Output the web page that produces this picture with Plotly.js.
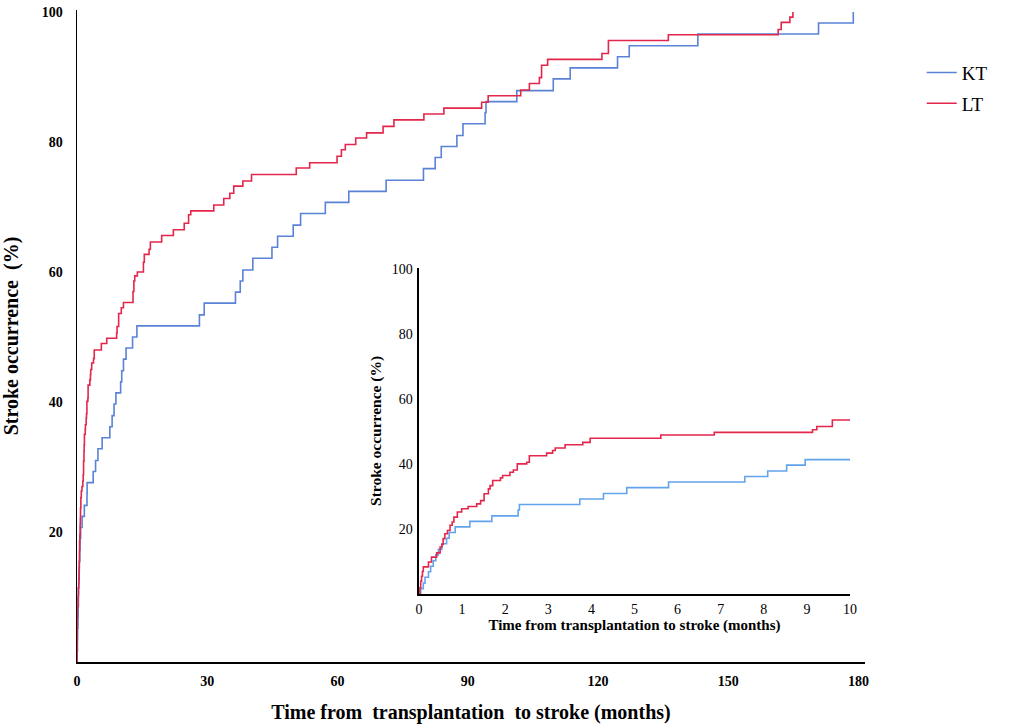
<!DOCTYPE html>
<html>
<head>
<meta charset="utf-8">
<script src="https://cdn.plot.ly/plotly-3.0.1.min.js"></script>
<style>
  html, body { margin: 0; padding: 0; background: #fff; }
  #chart { width: 1013px; height: 728px; }
</style>
</head>
<body>
<div id="chart"></div>
<script>
// Cumulative stroke occurrence (%), step points: time (months) at which the value jumps
const ktMonths = [0, 0.04, 0.10, 0.14, 0.22, 0.27, 0.33, 0.39, 0.45, 0.53, 0.64, 0.70, 0.84, 1.18, 1.69, 2.30, 2.33,
    3.73, 4.28, 4.82, 5.79, 7.56, 8.09, 8.53, 8.96, 10.05, 10.3, 10.7, 11.3, 12.8, 13.8, 28.2, 29.3, 36.5, 37.6,
    38.2, 40.5, 44.9, 46.2, 49.8, 51.5, 57.2, 62.6, 71.2, 79.8, 82.5, 83.9, 87.5, 88.9, 94.0, 94.2, 101.3, 109.7,
    113.6, 124.5, 127.2, 143.0, 170.8, 178.8];
const ktPct = [0, 1.7, 3.4, 5.2, 6.9, 8.6, 10.3, 12.1, 13.8, 15.5, 17.2, 19.0, 20.7, 22.4, 24.1, 25.9, 27.6,
    29.3, 31.0, 32.8, 34.5, 36.2, 37.9, 39.7, 41.4, 43.1, 44.8, 46.6, 48.3, 50.0, 51.7, 53.4, 55.2, 56.9, 58.6,
    60.3, 62.1, 63.8, 65.5, 67.2, 69.0, 70.7, 72.4, 74.1, 75.9, 77.6, 79.3, 81.0, 82.8, 84.5, 86.2, 87.9, 89.7,
    91.4, 93.1, 94.8, 96.6, 98.3, 100];

const ltMonths = [0, 0.02, 0.04, 0.06, 0.08, 0.10, 0.22, 0.29, 0.41, 0.49, 0.53, 0.56, 0.60, 0.66, 0.72, 0.77, 0.81,
    0.89, 0.99, 1.14, 1.34, 1.43, 1.51, 1.61, 1.65, 1.71, 1.89, 1.94, 2.11, 2.19, 2.28, 2.50, 2.56, 2.96, 3.10,
    3.16, 3.39, 3.80, 3.97, 5.61, 6.85, 9.13, 9.23, 9.59, 10.2, 10.7, 12.9, 13.1, 13.3, 13.9, 15.3, 15.5, 16.6,
    16.9, 19.5, 22.2, 24.7, 25.7, 26.2, 31.5, 33.8, 35.2, 36.1, 38.2, 40.2, 50.5, 53.6, 59.9, 60.9, 61.8, 64.2,
    66.7, 70.5, 73.0, 79.9, 84.5, 93.2, 94.7, 102.2, 104.2, 106.5, 107.0, 108.4, 120.9, 122.4, 136.2, 161.5,
    162.2, 164.2, 164.9];
const ltPct = [0, 2.0, 4.0, 5.5, 7.0, 8.4, 9.9, 11.4, 12.7, 14.5, 15.3, 17.1, 18.6, 19.6, 21.2, 22.2, 23.7,
    25.3, 26.3, 27.0, 27.8, 28.8, 30.9, 32.4, 33.4, 35.0, 35.8, 36.5, 37.5, 38.2, 40.1, 40.6, 42.6, 43.4, 44.2,
    45.0, 46.0, 46.7, 48.0, 49.0, 49.8, 50.6, 51.6, 53.6, 54.5, 55.3, 57.0, 58.6, 59.4, 60.0, 61.5, 62.7, 63.5,
    64.6, 65.6, 66.5, 67.5, 68.8, 69.4, 70.3, 71.3, 72.1, 73.2, 74.0, 75.0, 76.0, 76.8, 77.8, 78.8, 79.6, 80.6,
    81.4, 82.4, 83.4, 84.3, 85.2, 86.1, 87.1, 88.0, 89.0, 89.9, 91.8, 92.7, 93.6, 95.6, 96.5, 97.3,
    98.4, 99.2, 100];

const mainXTicks = [0, 30, 60, 90, 120, 150, 180];
const insetXTicks = [0, 1, 2, 3, 4, 5, 6, 7, 8, 9, 10];
const yTicks = [20, 40, 60, 80, 100];

const serif = 'Liberation Serif, Times New Roman, serif';
const KT_MAIN = '#5a82d6', KT_INSET = '#62a4ec', LT_COLOR = '#e3264b';

const traces = [
    { x: ktMonths, y: ktPct, type: 'scatter', mode: 'lines', name: 'KT', legendgroup: 'kt', line: { color: KT_MAIN, width: 1.6, shape: 'hv' }, xaxis: 'x', yaxis: 'y', hoverinfo: 'skip' },
    { x: ltMonths, y: ltPct, type: 'scatter', mode: 'lines', name: 'LT', legendgroup: 'lt', line: { color: LT_COLOR, width: 1.6, shape: 'hv' }, xaxis: 'x', yaxis: 'y', hoverinfo: 'skip' },
    { x: ktMonths, y: ktPct, type: 'scatter', mode: 'lines', showlegend: false, line: { color: KT_INSET, width: 1.6, shape: 'hv' }, xaxis: 'x2', yaxis: 'y2', hoverinfo: 'skip' },
    { x: ltMonths, y: ltPct, type: 'scatter', mode: 'lines', showlegend: false, line: { color: LT_COLOR, width: 1.6, shape: 'hv' }, xaxis: 'x2', yaxis: 'y2', hoverinfo: 'skip' },
];

const axisBase = { showline: true, linecolor: '#000', linewidth: 1.5, showgrid: false, zeroline: false, ticks: '', automargin: false };

const layout = {
    width: 1013, height: 728,
    margin: { l: 77, r: 148, t: 10, b: 66 },
    paper_bgcolor: '#fff', plot_bgcolor: '#fff',
    font: { family: serif, color: '#000' },
    showlegend: true,
    legend: { x: 1.072, xanchor: 'left', y: 0.933, yanchor: 'top', font: { family: serif, size: 19, color: '#000' },
        bgcolor: 'rgba(0,0,0,0)', traceorder: 'grouped', tracegroupgap: 3, itemwidth: 30 },
    xaxis: Object.assign({}, axisBase, {
        domain: [0, 1], range: [0, 181.5], tickvals: mainXTicks,
        tickfont: { family: serif, size: 14, weight: 'bold' }, ticklabelstandoff: 6,
        title: { text: 'Time from  transplantation  to stroke (months)', font: { family: serif, size: 20, weight: 'bold' }, standoff: 16 },
    }),
    yaxis: Object.assign({}, axisBase, {
        domain: [0, 1], range: [0, 100.3], tickvals: yTicks,
        tickfont: { family: serif, size: 14, weight: 'bold' }, ticklabelstandoff: 10,
        title: { text: 'Stroke occurrence  (%)', font: { family: serif, size: 20, weight: 'bold' }, standoff: 18 },
    }),
    xaxis2: Object.assign({}, axisBase, {
        domain: [0.434, 0.981], range: [0, 10], anchor: 'y2', tickvals: insetXTicks,
        tickfont: { family: serif, size: 14 }, ticklabelstandoff: 2,
        title: { text: 'Time from transplantation to stroke (months)', font: { family: serif, size: 15, weight: 'bold' }, standoff: 3 },
    }),
    yaxis2: Object.assign({}, axisBase, {
        domain: [0.104, 0.605], range: [0, 100.5], anchor: 'x2', tickvals: yTicks,
        tickfont: { family: serif, size: 14 }, ticklabelstandoff: 2,
        title: { text: 'Stroke occurrence (%)', font: { family: serif, size: 15.5, weight: 'bold' }, standoff: 6 },
    }),
};

Plotly.newPlot('chart', traces, layout, { displayModeBar: false, staticPlot: true });
</script>
</body>
</html>
